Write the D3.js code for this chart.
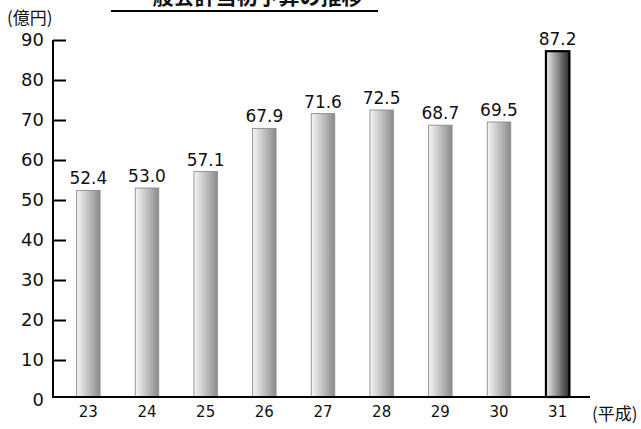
<!DOCTYPE html>
<html>
<head>
<meta charset="utf-8">
<script src="https://cdn.jsdelivr.net/npm/d3@7"></script>
<style>
  body { margin: 0; background: #fff; }
  svg { display: block; }
</style>
</head>
<body>
<div id="canvas"></div>
<script>
// 一般会計当初予算 (億円), 平成23〜31年度
var years = ["23", "24", "25", "26", "27", "28", "29", "30", "31"];
var budget = [52.4, 53.0, 57.1, 67.9, 71.6, 72.5, 68.7, 69.5, 87.2];
var yTicks = [0, 10, 20, 30, 40, 50, 60, 70, 80, 90];

var width = 641, height = 429;
var numFont = "DejaVu Sans";
var jpFont = "'Noto Sans CJK JP', sans-serif";

var svg = d3.select("#canvas").append("svg")
    .attr("width", width)
    .attr("height", height);

var defs = svg.append("defs");

var g1 = defs.append("linearGradient").attr("id", "barGrad");
g1.append("stop").attr("offset", "0%").attr("stop-color", "#f6f6f6");
g1.append("stop").attr("offset", "100%").attr("stop-color", "#8a8a8a");

var g2 = defs.append("linearGradient").attr("id", "lastGrad");
g2.append("stop").attr("offset", "0%").attr("stop-color", "#ececec");
g2.append("stop").attr("offset", "100%").attr("stop-color", "#2a2a2a");

var x = d3.scaleBand()
    .domain(years)
    .range([59, 587])
    .paddingInner(0.6)
    .paddingOuter(0.3);

var y = d3.scaleLinear()
    .domain([0, 90])
    .range([400, 40]);

var baseY = 397;

// bars
svg.selectAll("rect.bar")
    .data(budget)
    .enter().append("rect")
    .attr("class", "bar")
    .attr("x", function(d, i) { return x(years[i]); })
    .attr("y", function(d) { return y(d); })
    .attr("width", x.bandwidth())
    .attr("height", function(d) { return baseY - y(d); })
    .attr("fill", function(d, i) { return i == budget.length - 1 ? "url(#lastGrad)" : "url(#barGrad)"; })
    .attr("stroke", function(d, i) { return i == budget.length - 1 ? "#000" : "#8c8c8c"; })
    .attr("stroke-width", function(d, i) { return i == budget.length - 1 ? 2.2 : 0.9; });

// value labels
svg.selectAll("text.val")
    .data(budget)
    .enter().append("text")
    .attr("class", "val")
    .attr("x", function(d, i) { return x(years[i]) + x.bandwidth() / 2; })
    .attr("y", function(d) { return y(d) - 6; })
    .attr("text-anchor", "middle")
    .style("font-family", numFont)
    .style("font-size", "17px")
    .style("fill", "#111")
    .text(function(d) { return d.toFixed(1); });

// y axis
var yAxis = svg.append("g")
    .attr("transform", "translate(53,0)")
    .call(d3.axisLeft(y)
        .tickValues(yTicks)
        .tickSizeInner(-13)
        .tickSizeOuter(0)
        .tickPadding(9));

yAxis.select(".domain")
    .attr("stroke", "#000")
    .attr("stroke-width", 2)
    .attr("d", "M0," + y(90) + "V" + baseY);
yAxis.selectAll(".tick line")
    .attr("stroke", "#000")
    .attr("stroke-width", 2)
    .filter(function(d) { return d == 0; }).remove();
yAxis.selectAll(".tick text")
    .style("font-family", numFont)
    .style("font-size", "18px")
    .style("fill", "#111");

// x axis
var xAxis = svg.append("g")
    .attr("transform", "translate(0," + baseY + ")")
    .call(d3.axisBottom(x).tickSize(0).tickPadding(9));

xAxis.select(".domain")
    .attr("stroke", "#000")
    .attr("stroke-width", 2)
    .attr("d", "M52,0H590");
xAxis.selectAll(".tick text")
    .style("font-family", numFont)
    .style("font-size", "15px")
    .style("fill", "#111");

// units
svg.append("text")
    .attr("x", 7)
    .attr("y", 24)
    .style("font-family", jpFont)
    .style("font-size", "17px")
    .style("fill", "#111")
    .text("(億円)");

svg.append("text")
    .attr("x", 592)
    .attr("y", 420)
    .style("font-family", jpFont)
    .style("font-size", "17px")
    .style("fill", "#111")
    .text("(平成)");

// title (cut off at the top edge)
svg.append("text")
    .attr("x", 247)
    .attr("y", 4)
    .attr("text-anchor", "middle")
    .style("font-family", jpFont)
    .style("font-weight", "bold")
    .style("font-size", "21px")
    .style("fill", "#111")
    .text("一般会計当初予算の推移");

svg.append("line")
    .attr("x1", 111)
    .attr("x2", 378)
    .attr("y1", 11)
    .attr("y2", 11)
    .attr("stroke", "#000")
    .attr("stroke-width", 2);
</script>
</body>
</html>
